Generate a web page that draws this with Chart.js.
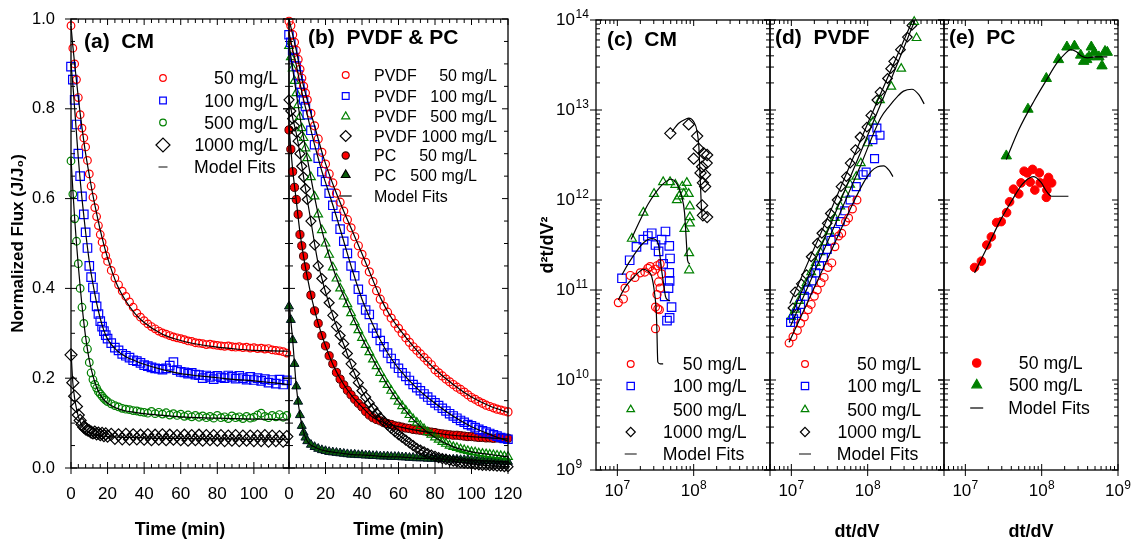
<!DOCTYPE html>
<html><head><meta charset="utf-8">
<script src="https://cdn.jsdelivr.net/npm/chart.js@4.4.1/dist/chart.umd.min.js"></script>
<style>
html,body{margin:0;padding:0;background:#fff;}
body{width:1136px;height:545px;position:relative;overflow:hidden;}
canvas{position:absolute;left:0;top:0;}
</style></head><body>
<canvas id="ca" width="1136" height="545"></canvas>
<canvas id="cb" width="1136" height="545"></canvas>
<canvas id="cc" width="1136" height="545"></canvas>
<canvas id="cd" width="1136" height="545"></canvas>
<canvas id="ce" width="1136" height="545"></canvas>
<script>
// ---------------- (a) CM : time (min) vs J/J0 ----------------
const tA = [0,1,2,3,4,5,6,7,8,9,10,11,12,13,14,15,16,17,18,19,20,22,24,26,28,30,32,34,36,38,40,42,44,46,48,50,52,54,56,58,60,62,64,66,68,70,72,74,76,78,80,82,84,86,88,90,92,94,96,98,100,102,104,106,108,110,112,114,116,118];
const cm50 = [0.985,0.935,0.90,0.865,0.825,0.787,0.757,0.735,0.715,0.685,0.655,0.628,0.603,0.58,0.56,0.54,0.52,0.503,0.488,0.473,0.46,
  0.44,0.423,0.408,0.394,0.382,0.37,0.358,0.345,0.336,0.328,
  0.321,0.315,0.31,0.305,0.301,0.298,0.295,0.292,0.29,0.288,
  0.286,0.283,0.282,0.279,0.278,0.277,0.275,0.276,0.274,0.273,
  0.272,0.271,0.272,0.27,0.269,0.27,0.268,0.269,0.267,0.268,
  0.266,0.267,0.265,0.266,0.263,0.262,0.261,0.259,0.256];
const cm100 = [0.894,0.865,0.82,0.765,0.7,0.65,0.605,0.565,0.525,0.49,0.45,0.425,0.402,0.38,0.36,0.343,0.327,0.315,0.305,0.296,0.288,
  0.278,0.268,0.262,0.254,0.25,0.246,0.24,0.238,0.234,0.229,
  0.227,0.224,0.222,0.221,0.219,0.222,0.228,0.236,0.218,0.214,
  0.213,0.21,0.212,0.208,0.207,0.2,0.206,0.203,0.198,0.205,
  0.202,0.2,0.206,0.203,0.199,0.205,0.2,0.197,0.203,0.196,
  0.2,0.194,0.198,0.19,0.196,0.188,0.197,0.186,0.195];
const cm500 = [0.684,0.61,0.555,0.505,0.455,0.4,0.358,0.322,0.285,0.265,0.235,0.212,0.197,0.186,0.178,0.17,0.165,0.16,0.155,0.151,0.148,
  0.143,0.139,0.136,0.133,0.131,0.13,0.128,0.127,0.125,0.124,
  0.122,0.126,0.121,0.124,0.12,0.123,0.118,0.121,0.117,0.12,
  0.115,0.118,0.114,0.117,0.113,0.116,0.112,0.115,0.111,0.117,
  0.112,0.114,0.11,0.116,0.112,0.114,0.11,0.115,0.111,0.113,
  0.118,0.122,0.115,0.112,0.117,0.114,0.119,0.113,0.117];
const cm1000 = [0.252,0.19,0.16,0.137,0.118,0.106,0.097,0.091,0.087,0.085,0.083,0.08,0.078,0.08,0.076,0.078,0.074,0.077,0.072,0.076,0.071,
  0.075,0.066,0.074,0.065,0.075,0.064,0.074,0.065,0.073,0.064,
  0.074,0.063,0.073,0.064,0.074,0.063,0.073,0.064,0.072,0.063,
  0.073,0.062,0.072,0.063,0.073,0.062,0.072,0.063,0.072,0.062,
  0.072,0.061,0.071,0.062,0.072,0.061,0.071,0.062,0.071,0.061,
  0.071,0.061,0.072,0.06,0.071,0.061,0.07,0.06,0.07];
const fitTA = [0,1,2,3,4,5,6,7,8,10,12,14,16,18,20,25,30,35,40,50,60,70,80,90,100,110,119];
const fitA50 = [0.985,0.94,0.9,0.862,0.825,0.79,0.758,0.728,0.7,0.652,0.607,0.567,0.53,0.497,0.468,0.41,0.372,0.344,0.324,0.298,0.284,0.275,0.269,0.265,0.262,0.261,0.26];
const fitA100 = [0.9,0.855,0.8,0.745,0.69,0.642,0.6,0.562,0.525,0.46,0.41,0.368,0.333,0.306,0.287,0.262,0.248,0.239,0.231,0.219,0.21,0.205,0.201,0.197,0.194,0.19,0.186];
const fitA500 = [0.69,0.62,0.555,0.5,0.45,0.405,0.362,0.325,0.292,0.24,0.205,0.18,0.163,0.152,0.144,0.133,0.127,0.124,0.121,0.117,0.114,0.112,0.111,0.11,0.109,0.108,0.107];
const fitA1000 = [0.26,0.19,0.155,0.132,0.115,0.103,0.095,0.089,0.085,0.079,0.076,0.074,0.072,0.071,0.07,0.069,0.068,0.068,0.067,0.066,0.066,0.065,0.065,0.065,0.064,0.064,0.064];

// ---------------- (b) PVDF & PC ----------------
const tB = [0,1,2,3,4,5,6,7,8,9,10,12,14,16,18,20,22,24,26,28,30,32,34,36,38,40,42,44,46,48,50,52,54,56,58,60,62,64,66,68,70,72,74,76,78,80,82,84,86,88,90,92,94,96,98,100,102,104,106,108,110,112,114,116,118,120];
const pv50 = [0.995,0.985,0.965,0.948,0.93,0.91,0.888,0.868,0.85,0.835,0.82,
  0.79,0.762,0.733,0.703,0.677,0.655,0.635,0.612,0.592,0.572,
  0.553,0.535,0.515,0.495,0.476,0.458,0.437,0.415,0.395,0.376,
  0.36,0.347,0.334,0.322,0.311,0.3,0.29,0.28,0.27,0.262,
  0.254,0.246,0.238,0.23,0.219,0.212,0.205,0.198,0.192,0.186,
  0.18,0.175,0.169,0.163,0.157,0.153,0.148,0.144,0.14,0.137,
  0.134,0.131,0.129,0.127,0.125];
const pv100 = [0.965,0.948,0.93,0.914,0.895,0.875,0.855,0.836,0.82,0.805,0.787,
  0.752,0.72,0.69,0.66,0.638,0.612,0.585,0.56,0.532,0.505,
  0.478,0.45,0.428,0.398,0.375,0.352,0.342,0.312,0.3,0.284,
  0.27,0.256,0.244,0.232,0.222,0.212,0.204,0.195,0.186,0.179,
  0.172,0.165,0.158,0.151,0.145,0.139,0.133,0.127,0.121,0.116,
  0.111,0.106,0.102,0.097,0.094,0.09,0.086,0.083,0.08,0.077,
  0.074,0.071,0.068,0.066,0.064];
const pv500 = [0.94,0.915,0.89,0.862,0.835,0.808,0.782,0.757,0.735,0.712,0.69,
  0.648,0.605,0.565,0.53,0.5,0.475,0.447,0.422,0.4,0.382,
  0.365,0.345,0.325,0.307,0.29,0.274,0.258,0.242,0.227,0.212,
  0.198,0.185,0.172,0.16,0.148,0.138,0.128,0.118,0.109,0.101,
  0.094,0.087,0.08,0.074,0.068,0.063,0.058,0.054,0.05,0.047,
  0.045,0.042,0.04,0.038,0.036,0.035,0.033,0.032,0.031,0.03,
  0.029,0.028,0.027,0.026,0.025];
const pv1000 = [0.82,0.795,0.778,0.762,0.748,0.728,0.7,0.672,0.648,0.622,0.598,
  0.55,0.497,0.45,0.422,0.395,0.368,0.34,0.315,0.295,0.277,
  0.255,0.232,0.21,0.19,0.172,0.158,0.145,0.133,0.122,0.112,
  0.104,0.096,0.088,0.081,0.074,0.068,0.062,0.056,0.05,0.044,
  0.04,0.036,0.032,0.029,0.026,0.023,0.021,0.019,0.017,0.015,
  0.014,0.012,0.011,0.01,0.009,0.008,0.007,0.006,0.006,0.005,
  0.005,0.004,0.004,0.003,0.003];
const pc50 = [0.753,0.71,0.66,0.625,0.598,0.565,0.52,0.495,0.472,0.448,0.428,
  0.385,0.35,0.322,0.295,0.272,0.25,0.232,0.213,0.198,0.185,
  0.173,0.163,0.153,0.144,0.136,0.126,0.118,0.112,0.108,0.105,
  0.101,0.099,0.097,0.094,0.093,0.091,0.089,0.088,0.086,0.085,
  0.084,0.083,0.081,0.08,0.079,0.077,0.076,0.075,0.074,0.073,
  0.073,0.072,0.071,0.07,0.07,0.069,0.068,0.068,0.067,0.067,
  0.066,0.067,0.066,0.066,0.066];
const pc500 = [0.36,0.33,0.285,0.232,0.182,0.148,0.118,0.094,0.079,0.068,0.06,
  0.052,0.047,0.043,0.04,0.038,0.036,0.035,0.034,0.033,0.032,
  0.031,0.03,0.03,0.029,0.029,0.028,0.028,0.027,0.027,0.026,
  0.026,0.026,0.025,0.025,0.025,0.024,0.024,0.023,0.023,0.022,
  0.022,0.022,0.021,0.021,0.021,0.02,0.02,0.02,0.019,0.019,
  0.019,0.018,0.018,0.018,0.017,0.017,0.017,0.016,0.016,0.016,
  0.015,0.015,0.015,0.014,0.014];
const fitTB = [0,2,4,6,8,10,12,14,16,18,20,25,30,35,40,45,50,55,60,70,80,90,100,110,120];
const fitPv50 = [1.0,0.965,0.93,0.888,0.85,0.82,0.79,0.762,0.733,0.704,0.678,0.622,0.572,0.525,0.477,0.428,0.38,0.342,0.312,0.262,0.22,0.186,0.158,0.138,0.124];
const fitPv100 = [0.97,0.932,0.897,0.857,0.82,0.787,0.753,0.72,0.69,0.661,0.636,0.573,0.505,0.437,0.376,0.328,0.285,0.25,0.222,0.178,0.144,0.115,0.092,0.075,0.06];
const fitPv500 = [0.945,0.89,0.835,0.782,0.735,0.69,0.646,0.604,0.565,0.53,0.5,0.435,0.383,0.336,0.29,0.25,0.212,0.178,0.148,0.1,0.068,0.047,0.036,0.03,0.025];
const fitPv1000 = [0.825,0.78,0.745,0.7,0.648,0.598,0.55,0.5,0.455,0.422,0.392,0.328,0.275,0.22,0.172,0.14,0.112,0.09,0.074,0.045,0.026,0.015,0.009,0.005,0.003];
const fitPc50 = [0.76,0.665,0.595,0.525,0.47,0.426,0.386,0.352,0.322,0.296,0.272,0.222,0.186,0.158,0.136,0.116,0.104,0.097,0.092,0.084,0.078,0.073,0.07,0.067,0.065];
const fitPc500 = [0.37,0.285,0.182,0.118,0.08,0.06,0.051,0.047,0.043,0.04,0.038,0.035,0.032,0.03,0.029,0.028,0.026,0.025,0.025,0.022,0.021,0.019,0.017,0.016,0.014];

// ---------------- (c) CM : dt/dV vs d2t/dV2 ----------------
const c50x = [1.03e7,1.20e7,1.26e7,1.48e7,1.70e7,2.00e7,2.29e7,2.51e7,2.69e7,2.88e7,3.16e7,3.31e7,3.63e7,3.80e7,3.47e7,3.63e7,3.31e7,3.16e7,3.39e7,3.55e7,3.16e7];
const c50y = [7.24e10,7.94e10,1.05e11,1.45e11,1.38e11,1.55e11,1.58e11,1.74e11,1.82e11,1.62e11,1.70e11,1.86e11,1.95e11,1.51e11,1.23e11,1.05e11,8.9e10,6.46e10,6.17e10,6.03e10,3.72e10];
const c100x = [1.15e7,1.45e7,1.78e7,2.19e7,2.51e7,2.82e7,3.16e7,3.47e7,3.8e7,4.27e7,4.79e7,4.9e7,3.98e7,4.79e7,4.84e7,4.68e7,4.17e7,5.13e7,4.84e7,4.47e7];
const c100y = [1.35e11,2.14e11,3.02e11,3.63e11,3.98e11,4.27e11,3.16e11,2.69e11,3.63e11,4.47e11,3.09e11,2.24e11,1.95e11,1.55e11,1.26e11,1.05e11,8.5e10,6.46e10,4.9e10,4.57e10];
const c500x = [1.55e7,2.19e7,3.02e7,3.98e7,4.9e7,5.75e7,7.08e7,8.13e7,6.03e7,7.41e7,8.6e7,6.46e7,8.91e7,8.91e7,8.91e7,7.59e7,8.71e7,8.71e7];
const c500y = [3.72e11,7.24e11,1.17e12,1.58e12,1.58e12,1.48e12,1.41e12,1.55e12,1.0e12,1.17e12,1.17e12,1.1e12,8.5e11,6.46e11,5.5e11,4.79e11,2.57e11,1.66e11];
const c1000x = [4.94e7,8.6e7,1.11e8,1.16e8,1.0e8,1.35e8,1.5e8,1.48e8,1.29e8,1.23e8,1.41e8,1.32e8,1.41e8,1.29e8,1.32e8,1.5e8];
const c1000y = [5.5e12,6.92e12,5.13e12,3.72e12,2.88e12,3.31e12,3.16e12,2.57e12,2.34e12,2.0e12,1.91e12,1.55e12,1.41e12,8.7e11,6.76e11,6.46e11];
const fc50x = [1.03e7,1.26e7,1.58e7,1.91e7,2.19e7,2.51e7,2.82e7,3.09e7,3.24e7,3.31e7,3.35e7,3.39e7,3.63e7,3.98e7];
const fc50y = [7.76e10,1.07e11,1.35e11,1.58e11,1.70e11,1.62e11,1.41e11,8.9e10,5.62e10,3.16e10,2.0e10,1.58e10,1.51e10,1.51e10];
const fc100x = [1.15e7,1.41e7,1.78e7,2.24e7,2.82e7,3.16e7,3.47e7,3.8e7,4.07e7,4.27e7,4.57e7,4.9e7];
const fc100y = [1.48e11,2.0e11,2.69e11,3.39e11,3.72e11,3.63e11,3.16e11,1.66e11,1.12e11,8.5e10,7.76e10,7.59e10];
const fc500x = [1.51e7,2.0e7,2.51e7,3.16e7,3.98e7,5.01e7,6.03e7,6.92e7,7.59e7,7.94e7,8.13e7,8.32e7,8.91e7];
const fc500y = [3.63e11,6.03e11,8.9e11,1.2e12,1.51e12,1.7e12,1.51e12,1.12e12,7.24e11,3.98e11,2.82e11,2.14e11,1.95e11];
const fc1000x = [5.19e7,6.31e7,7.94e7,8.6e7,1.0e8,1.11e8,1.17e8,1.2e8,1.23e8,1.26e8,1.29e8];
const fc1000y = [5.75e12,7.08e12,7.94e12,8.13e12,7.41e12,5.75e12,3.89e12,2.34e12,1.41e12,8.5e11,6.46e11];

// ---------------- (d) PVDF ----------------
const d50x = [9.33e6,1.05e7,1.2e7,1.32e7,1.48e7,1.66e7,1.82e7,2.0e7,2.19e7,2.45e7,2.69e7,3.02e7,3.39e7,3.72e7,4.17e7,4.57e7,5.13e7,5.62e7,6.31e7,7.24e7];
const d50y = [2.57e10,3.02e10,3.55e10,4.27e10,5.01e10,6.03e10,6.92e10,8.51e10,1.0e11,1.2e11,1.38e11,1.78e11,2.0e11,3.02e11,3.98e11,4.27e11,5.75e11,6.31e11,7.94e11,1.0e12];
const d100x = [9.77e6,1.07e7,1.17e7,1.32e7,1.48e7,1.66e7,1.86e7,2.09e7,2.34e7,2.63e7,2.95e7,3.31e7,3.8e7,4.37e7,5.01e7,5.89e7,7.08e7,8.71e7,9.55e7,1.23e8,1.17e8,1.45e8,1.32e8];
const d100y = [4.37e10,4.79e10,5.5e10,6.92e10,8.51e10,1.0e11,1.26e11,1.55e11,1.86e11,2.29e11,2.82e11,3.55e11,4.47e11,5.75e11,7.59e11,1.0e12,1.41e12,1.91e12,2.04e12,2.88e12,4.68e12,5.25e12,6.31e12];
const d500x = [1.0e7,1.12e7,1.26e7,1.41e7,1.58e7,1.82e7,2.09e7,2.4e7,2.75e7,3.16e7,3.72e7,4.37e7,5.13e7,5.89e7,7.08e7,8.13e7,1.0e8,1.17e8,1.45e8,2.04e8,2.75e8,4.37e8,4.07e8];
const d500y = [5.01e10,6.03e10,7.59e10,9.55e10,1.2e11,1.58e11,2.0e11,2.63e11,3.39e11,4.47e11,6.31e11,8.51e11,1.15e12,1.48e12,1.82e12,2.57e12,4.27e12,7.41e12,1.29e13,1.82e13,2.88e13,6.31e13,9.55e13];
const d1000x = [1.05e7,1.12e7,1.35e7,1.58e7,1.82e7,2.19e7,2.51e7,2.95e7,3.24e7,3.98e7,4.47e7,5.25e7,5.89e7,6.92e7,7.94e7,9.77e7,1.1e8,1.32e8,1.45e8,1.82e8,2.0e8,2.19e8,2.69e8,3.31e8,3.8e8];
const d1000y = [6.31e10,9.55e10,1.17e11,1.48e11,2.34e11,3.31e11,4.27e11,5.5e11,7.08e11,1.0e12,1.41e12,1.82e12,2.57e12,3.63e12,5.01e12,6.46e12,8.71e12,1.29e13,1.58e13,2.24e13,2.88e13,3.47e13,4.68e13,6.46e13,8.71e13];
const fd50x = [9.33e6,1.58e7,2.51e7,3.98e7,6.31e7,8.91e7,1.12e8,1.35e8,1.62e8,1.91e8,2.14e8];
const fd50y = [2.63e10,6.92e10,1.62e11,3.8e11,8.91e11,1.58e12,2.09e12,2.34e12,2.4e12,2.14e12,1.82e12];
const fd100x = [9.77e6,2.0e7,3.98e7,7.94e7,1.48e8,1.91e8,2.45e8,2.95e8,3.8e8,4.68e8,5.5e8];
const fd100y = [3.98e10,1.58e11,6.03e11,2.34e12,8.13e12,1.1e13,1.41e13,1.62e13,1.7e13,1.48e13,1.17e13];
const fd500x = [1.0e7,3.16e7,1.0e8,2.0e8,4.17e8];
const fd500y = [5.25e10,5.01e11,5.25e12,2.14e13,1.0e14];
const fd1000x = [9.55e6,3.16e7,1.0e8,3.89e8];
const fd1000y = [7.08e10,7.08e11,7.08e12,1.0e14];

// ---------------- (e) PC ----------------
const e50x = [1.32e7,1.62e7,1.91e7,2.19e7,2.57e7,2.95e7,3.47e7,3.8e7,4.27e7,5.01e7,5.37e7,5.89e7,6.46e7,7.08e7,7.59e7,8.13e7,9.33e7,9.55e7,1.15e8,1.23e8,1.35e8,1.17e8,1.15e8];
const e50y = [1.78e11,2.09e11,3.16e11,3.89e11,5.62e11,5.75e11,7.24e11,9.55e11,1.32e12,1.17e12,1.55e12,2.09e12,2.0e12,1.58e12,2.19e12,1.29e12,2.0e12,1.55e12,1.58e12,1.78e12,1.55e12,1.29e12,1.07e12];
const e500x = [3.44e7,6.61e7,1.15e8,1.66e8,2.14e8,2.69e8,3.24e8,3.55e8,3.89e8,4.17e8,4.47e8,4.9e8,5.62e8,6.17e8,6.76e8,7.24e8];
const e500y = [3.09e12,1.02e13,2.24e13,3.63e13,5.01e13,5.13e13,4.07e13,3.47e13,3.63e13,3.89e13,5.01e13,4.37e13,3.89e13,3.09e13,4.47e13,4.37e13];
const fe50x = [1.32e7,2.0e7,2.82e7,3.98e7,5.62e7,7.76e7,9.77e7,1.17e8,1.35e8,2.24e8];
const fe50y = [1.55e11,3.16e11,5.75e11,9.55e11,1.51e12,1.82e12,1.58e12,1.23e12,1.1e12,1.1e12];
const fe500x = [3.44e7,5.01e7,7.94e7,1.15e8,1.58e8,2.0e8,2.4e8,2.82e8,3.31e8,3.98e8,5.01e8,7.24e8];
const fe500y = [2.82e12,6.03e12,1.26e13,2.14e13,3.31e13,4.17e13,4.68e13,4.47e13,3.98e13,3.8e13,3.89e13,3.89e13];

// tick labels
const timeTicksA = [0,20,40,60,80,100];
const timeTicksB = [0,20,40,60,80,100,120];
const fluxTicks = [0,0.2,0.4,0.6,0.8,1.0];
const logXTicksCD = [1e7,1e8];
const logXTicksE = [1e7,1e8,1e9];
const logYTicks = [1e9,1e10,1e11,1e12,1e13,1e14];

// ---------------- styling helpers ----------------
const F = "'Liberation Sans', Arial, Helvetica, sans-serif";
Chart.defaults.font.family = F;
Chart.defaults.color = '#000';
const RED = '#ff0000', BLUE = '#0000ff', GREEN = '#008000', DKGREEN = '#0b5e0b';
const CLEAR = 'rgba(0,0,0,0)';

function pts(xs, ys){ return xs.map((x,i)=>({x:x, y:ys[i]})); }
function marks(label, xs, ys, style, r, stroke, fill, bw){
  return {label, data:pts(xs,ys), showLine:false, pointStyle:style, pointRadius:r, pointHoverRadius:r,
    borderColor:stroke, backgroundColor:fill||CLEAR, pointBorderColor:stroke, pointBackgroundColor:fill||CLEAR,
    pointBorderWidth:bw||1.2, borderWidth:bw||1.2, clip:false};
}
function fit(label, xs, ys){
  return {label, data:pts(xs,ys), showLine:true, pointRadius:0, pointHoverRadius:0, borderColor:'#000',
    backgroundColor:'#000', borderWidth:1.2, cubicInterpolationMode:'monotone', fill:false, clip:false};
}
function expOf(v){ return String(Math.round(Math.log10(v))); }

function linX(max, major, title){
  return {type:'linear', min:0, max:max, position:'bottom',
    afterBuildTicks: s => { s.ticks = major.map(v=>({value:v})); },
    afterFit: s => { s.height = 77; s.paddingLeft = 0; s.paddingRight = 0; },
    grid:{display:false, drawTicks:false}, border:{display:false},
    ticks:{padding:16, autoSkip:false, maxRotation:0, minRotation:0, color:'#000', font:{size:17}, callback:v=>String(v)},
    title:{display:true, text:title, color:'#000', font:{size:18, weight:'bold'}, padding:{top:0, bottom:4}}};
}
// log axes: the library draws the base "10", the decoration plugin adds the exponent
function logX(major, title){
  return {type:'logarithmic', min:5.25e6, max:1e9, position:'bottom',
    afterBuildTicks: s => { s.ticks = major.map(v=>({value:v})); },
    afterFit: s => { s.height = 75; s.paddingLeft = 0; s.paddingRight = 0; },
    grid:{display:false, drawTicks:false}, border:{display:false},
    ticks:{padding:11, labelOffset:-3.5, autoSkip:false, maxRotation:0, minRotation:0, color:'#000', font:{size:17}, callback:()=> '10'},
    title: title ? {display:true, text:title, color:'#000', font:{size:18, weight:'bold'}, padding:{top:0, bottom:2}} : {display:false}};
}
function base(pad, scales){
  return {responsive:false, animation:false, devicePixelRatio:1, events:[],
    layout:{padding:{left:pad[0], right:pad[1], top:pad[2], bottom:0}, autoPadding:false},
    plugins:{legend:{display:false}, tooltip:{enabled:false}, title:{display:false}},
    scales:scales};
}

// tick mark positions (decoration)
const linXMinor = []; for (let v=4; v<120; v+=4) if (v%20) linXMinor.push(v);
const linYMinor = []; for (let k=1; k<20; k++) if (k%4) linYMinor.push(k*0.05);
const logXMinor = []; for (let d=6; d<=8; d++) for (let k=2; k<=9; k++) logXMinor.push(k*Math.pow(10,d));
const logYMinor = []; for (let d=9; d<=13; d++) for (let k=2; k<=9; k++) logYMinor.push(k*Math.pow(10,d));

const legC = (mx, rx, lx) => ({mx:mx, size:17.7, items:[
  {ps:'circle', r:3.4, c:RED, t:'50 mg/L', rx:rx, y:364},
  {ps:'rect', r:5.2, c:BLUE, t:'100 mg/L', rx:rx, y:386},
  {ps:'triangle', r:4.4, c:GREEN, t:'500 mg/L', rx:rx, y:409.5},
  {ps:'rectRot', r:4.6, c:'#000', t:'1000 mg/L', rx:rx, y:432},
  {ps:'line', len:12, c:'#333', t:'Model Fits', lx:lx, y:454}]});

const DECOR = {
  ca:{xMajor:timeTicksA, xMinor:linXMinor, yMajor:fluxTicks, yMinor:linYMinor, title:['(a)  CM',84,42],
      legend:{mx:163, size:17.7, items:[
        {ps:'circle', r:3.3, c:RED, t:'50 mg/L', rx:278, y:78},
        {ps:'rect', r:4.7, c:BLUE, t:'100 mg/L', rx:278, y:100.5},
        {ps:'circle', r:3.3, c:GREEN, t:'500 mg/L', rx:278, y:122.5},
        {ps:'rectRot', r:7, c:'#000', t:'1000 mg/L', rx:278, y:145},
        {ps:'line', len:9, c:'#333', t:'Model Fits', lx:194, y:167}]}},
  cb:{xMajor:timeTicksB, xMinor:linXMinor, yMajor:fluxTicks, yMinor:linYMinor, title:['(b)  PVDF & PC',308,38],
      legend:{mx:345.7, size:16, lx:374, items:[
        {ps:'circle', r:3.4, c:RED, lt:'PVDF', t:'50 mg/L', rx:497, y:75},
        {ps:'rect', r:4.8, c:BLUE, lt:'PVDF', t:'100 mg/L', rx:497, y:96},
        {ps:'triangle', r:4.6, c:GREEN, lt:'PVDF', t:'500 mg/L', rx:497, y:116.5},
        {ps:'rectRot', r:5.5, c:'#000', lt:'PVDF', t:'1000 mg/L', rx:497, y:136},
        {ps:'circle', r:3.6, c:'#300', f:RED, lt:'PC', t:'50 mg/L', rx:477, y:155.5},
        {ps:'triangle', r:5, c:'#000', f:DKGREEN, lt:'PC', t:'500 mg/L', rx:477, y:175},
        {ps:'line', len:12, c:'#000', t:'Model Fits', lx:374, y:196}]}},
  cc:{xMajor:[1e7,1e8,1e9], xMinor:logXMinor, yMajor:logYTicks, yMinor:logYMinor, title:['(c)  CM',607,40],
      legend:legC(630.7,746.7,662.7), supX:logXTicksCD, supY:logYTicks},
  cd:{xMajor:[1e7,1e8,1e9], xMinor:logXMinor, yMajor:logYTicks, yMinor:logYMinor, title:['(d)  PVDF',775,38],
      legend:legC(805,921,836.7), supX:logXTicksCD},
  ce:{xMajor:[1e7,1e8,1e9], xMinor:logXMinor, yMajor:logYTicks, yMinor:logYMinor, title:['(e)  PC',949,38],
      legend:{mx:976.7, size:17.7, items:[
        {ps:'circle', r:4.2, c:RED, f:RED, t:'50 mg/L', rx:1082.7, y:363},
        {ps:'triangle', r:5.6, c:GREEN, f:GREEN, t:'500 mg/L', rx:1082.7, y:385},
        {ps:'line', len:13, c:'#000', t:'Model Fits', lx:1008.3, y:408}]}, supX:logXTicksE}
};

const decor = {
  id:'decor',
  afterDraw(chart){
    const o = DECOR[chart.canvas.id]; if (!o) return;
    const ctx = chart.ctx, a = chart.chartArea, xs = chart.scales.x, ys = chart.scales.y;
    ctx.save();
    ctx.strokeStyle = '#000'; ctx.lineWidth = 1;
    ctx.beginPath();
    const M = 6, m = 4;
    for (const v of o.xMajor){ const p = xs.getPixelForValue(v); if (p < a.left-0.6 || p > a.right+0.6) continue;
      ctx.moveTo(p, a.bottom+M); ctx.lineTo(p, a.bottom-M); ctx.moveTo(p, a.top); ctx.lineTo(p, a.top+M); }
    for (const v of o.xMinor){ const p = xs.getPixelForValue(v); if (p < a.left-0.6 || p > a.right+0.6) continue;
      ctx.moveTo(p, a.bottom); ctx.lineTo(p, a.bottom-m); ctx.moveTo(p, a.top); ctx.lineTo(p, a.top+m); }
    for (const v of o.yMajor){ const p = ys.getPixelForValue(v); if (p < a.top-0.6 || p > a.bottom+0.6) continue;
      ctx.moveTo(a.left-M, p); ctx.lineTo(a.left+M, p); ctx.moveTo(a.right, p); ctx.lineTo(a.right-M, p); }
    for (const v of o.yMinor){ const p = ys.getPixelForValue(v); if (p < a.top-0.6 || p > a.bottom+0.6) continue;
      ctx.moveTo(a.left, p); ctx.lineTo(a.left+m, p); ctx.moveTo(a.right, p); ctx.lineTo(a.right-m, p); }
    ctx.stroke();
    ctx.lineWidth = 1.3;
    ctx.strokeRect(a.left, a.top, a.right-a.left, a.bottom-a.top);
    ctx.fillStyle = '#000'; ctx.textBaseline = 'middle';
    // exponents of the log tick labels
    ctx.font = '17px ' + F;
    const w10 = ctx.measureText('10').width;
    ctx.font = '12px ' + F; ctx.textAlign = 'left';
    if (o.supX) for (const v of o.supX){
      const p = xs.getPixelForValue(v);
      ctx.fillText(expOf(v), p - 3.5 + w10/2 + 0.3, a.bottom + 11 + 10.2 - 5.5);
    }
    if (o.supY) for (const v of o.supY){
      const p = ys.getPixelForValue(v);
      ctx.fillText(expOf(v), a.left - 20.5, p - 5);
    }
    // panel title
    ctx.textAlign = 'left';
    ctx.font = 'bold 21px ' + F;
    ctx.fillText(o.title[0], o.title[1], o.title[2]);
    // legend
    const L = o.legend;
    for (const it of L.items){
      if (it.ps === 'line'){
        ctx.strokeStyle = it.c; ctx.lineWidth = 1.2; ctx.beginPath();
        ctx.moveTo(L.mx - it.len/2, it.y); ctx.lineTo(L.mx + it.len/2, it.y); ctx.stroke();
      } else {
        ctx.strokeStyle = it.c; ctx.fillStyle = it.f || CLEAR; ctx.lineWidth = 1.2;
        Chart.helpers.drawPoint(ctx, {pointStyle:it.ps, radius:it.r, rotation:0, borderWidth:1.2}, L.mx, it.y);
      }
      ctx.fillStyle = '#000'; ctx.font = L.size + 'px ' + F;
      if (it.lt){ ctx.textAlign = 'left'; ctx.fillText(it.lt, L.lx, it.y + 1.5); }
      if (it.rx){ ctx.textAlign = 'right'; ctx.fillText(it.t, it.rx, it.y + 1.5); }
      else { ctx.textAlign = 'left'; ctx.fillText(it.t, it.lx, it.y + 1.5); }
    }
    ctx.restore();
  }
};

// ---------------- charts ----------------
new Chart(document.getElementById('ca'), {
  type:'scatter', plugins:[decor],
  data:{datasets:[
    fit('fit 50 mg/L', fitTA, fitA50), fit('fit 100 mg/L', fitTA, fitA100),
    fit('fit 500 mg/L', fitTA, fitA500), fit('fit 1000 mg/L', fitTA, fitA1000),
    marks('50 mg/L', tA, cm50, 'circle', 3.8, RED),
    marks('100 mg/L', tA, cm100, 'rect', 6.0, BLUE),
    marks('500 mg/L', tA, cm500, 'circle', 3.8, GREEN),
    marks('1000 mg/L', tA, cm1000, 'rectRot', 6.0, '#000')
  ]},
  options: base([0, 847, 19], {
    x: linX(119.2, timeTicksA, 'Time (min)'),
    y: {type:'linear', min:0, max:1,
      afterBuildTicks: s => { s.ticks = fluxTicks.map(v=>({value:v})); },
      afterFit: s => { s.width = 71; s.paddingTop = 0; s.paddingBottom = 0; },
      grid:{display:false, drawTicks:false}, border:{display:false},
      ticks:{padding:16, color:'#000', font:{size:16.5}, callback:v=>Number(v).toFixed(1)},
      title:{display:true, text:'Normalized Flux (J/J₀)', color:'#000', font:{size:17, weight:'bold'}, padding:{top:8, bottom:0}}}
  })
});

new Chart(document.getElementById('cb'), {
  type:'scatter', plugins:[decor],
  data:{datasets:[
    fit('fit PVDF 50', fitTB, fitPv50), fit('fit PVDF 100', fitTB, fitPv100),
    fit('fit PVDF 500', fitTB, fitPv500), fit('fit PVDF 1000', fitTB, fitPv1000),
    fit('fit PC 50', fitTB, fitPc50), fit('fit PC 500', fitTB, fitPc500),
    marks('PVDF 50 mg/L', tB, pv50, 'circle', 4.0, RED),
    marks('PVDF 100 mg/L', tB, pv100, 'rect', 5.9, BLUE),
    marks('PVDF 500 mg/L', tB, pv500, 'triangle', 5.0, GREEN),
    marks('PVDF 1000 mg/L', tB, pv1000, 'rectRot', 5.0, '#000'),
    marks('PC 50 mg/L', tB, pc50, 'circle', 4.1, '#400', RED, 1),
    marks('PC 500 mg/L', tB, pc500, 'triangle', 5.2, '#012', DKGREEN, 1)
  ]},
  options: base([289, 628, 19], {
    x: linX(120, timeTicksB, 'Time (min)'),
    y: {type:'linear', min:0, max:1, display:false}
  })
});

new Chart(document.getElementById('cc'), {
  type:'scatter', plugins:[decor],
  data:{datasets:[
    fit('fit 50', fc50x, fc50y), fit('fit 100', fc100x, fc100y),
    fit('fit 500', fc500x, fc500y), fit('fit 1000', fc1000x, fc1000y),
    marks('50 mg/L', c50x, c50y, 'circle', 4.0, RED),
    marks('100 mg/L', c100x, c100y, 'rect', 6.0, BLUE),
    marks('500 mg/L', c500x, c500y, 'triangle', 5.2, GREEN),
    marks('1000 mg/L', c1000x, c1000y, 'rectRot', 5.6, '#000')
  ]},
  options: base([530, 366, 20], {
    x: logX(logXTicksCD, null),
    y: {type:'logarithmic', min:1e9, max:1e14,
      afterBuildTicks: s => { s.ticks = logYTicks.map(v=>({value:v})); },
      afterFit: s => { s.width = 66; s.paddingTop = 0; s.paddingBottom = 0; },
      grid:{display:false, drawTicks:false}, border:{display:false},
      ticks:{padding:21, color:'#000', font:{size:17}, callback:()=> '10'},
      title:{display:true, text:'d²t/dV²', color:'#000', font:{size:18, weight:'bold'}, padding:{top:7, bottom:0}}}
  })
});

new Chart(document.getElementById('cd'), {
  type:'scatter', plugins:[decor],
  data:{datasets:[
    fit('fit 50', fd50x, fd50y), fit('fit 100', fd100x, fd100y),
    fit('fit 500', fd500x, fd500y), fit('fit 1000', fd1000x, fd1000y),
    marks('50 mg/L', d50x, d50y, 'circle', 3.9, RED),
    marks('100 mg/L', d100x, d100y, 'rect', 5.6, BLUE),
    marks('500 mg/L', d500x, d500y, 'triangle', 5.0, GREEN),
    marks('1000 mg/L', d1000x, d1000y, 'rectRot', 4.8, '#000')
  ]},
  options: base([770, 192, 20], {
    x: logX(logXTicksCD, 'dt/dV'),
    y: {type:'logarithmic', min:1e9, max:1e14, display:false}
  })
});

new Chart(document.getElementById('ce'), {
  type:'scatter', plugins:[decor],
  data:{datasets:[
    fit('fit 50', fe50x, fe50y), fit('fit 500', fe500x, fe500y),
    marks('50 mg/L', e50x, e50y, 'circle', 4.3, RED, RED, 1),
    marks('500 mg/L', e500x, e500y, 'triangle', 6.0, GREEN, GREEN, 1)
  ]},
  options: base([944, 18, 20], {
    x: logX(logXTicksE, 'dt/dV'),
    y: {type:'logarithmic', min:1e9, max:1e14, display:false}
  })
});
</script>
</body></html>
